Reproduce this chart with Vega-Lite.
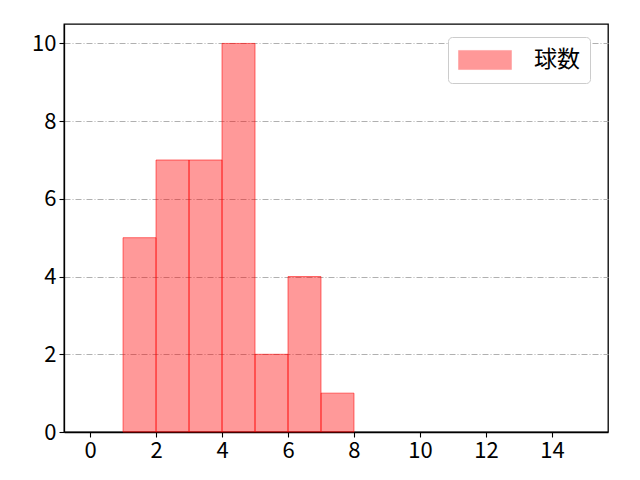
{
  "$schema": "https://vega.github.io/schema/vega-lite/v6.json",
  "width": 544,
  "height": 408,
  "autosize": {"type": "none"},
  "padding": {"left": 64, "top": 24, "right": 32, "bottom": 48},
  "background": "white",
  "config": {
    "font": "Noto Sans CJK JP",
    "view": {"stroke": "black", "strokeWidth": 1.3},
    "axis": {
      "domainColor": "black",
      "domainWidth": 1.3,
      "tickColor": "black",
      "tickWidth": 1.1,
      "tickSize": 5,
      "labelFontSize": 22,
      "labelColor": "black",
      "labelPadding": 3,
      "title": null
    }
  },
  "data": {
    "values": [
      {"bin_start": 1, "bin_end": 2, "count": 5, "series": "球数"},
      {"bin_start": 2, "bin_end": 3, "count": 7, "series": "球数"},
      {"bin_start": 3, "bin_end": 4, "count": 7, "series": "球数"},
      {"bin_start": 4, "bin_end": 5, "count": 10, "series": "球数"},
      {"bin_start": 5, "bin_end": 6, "count": 2, "series": "球数"},
      {"bin_start": 6, "bin_end": 7, "count": 4, "series": "球数"},
      {"bin_start": 7, "bin_end": 8, "count": 1, "series": "球数"}
    ]
  },
  "mark": {
    "type": "rect",
    "fillOpacity": 0.4,
    "stroke": "#ff0000",
    "strokeOpacity": 0.55,
    "strokeWidth": 1
  },
  "encoding": {
    "x": {
      "field": "bin_start",
      "type": "quantitative",
      "scale": {"domain": [-0.79, 15.7], "nice": false, "zero": false},
      "axis": {"values": [0, 2, 4, 6, 8, 10, 12, 14], "grid": false}
    },
    "x2": {"field": "bin_end"},
    "y": {
      "field": "count",
      "type": "quantitative",
      "scale": {"domain": [0, 10.5], "nice": false},
      "axis": {
        "values": [0, 2, 4, 6, 8, 10],
        "grid": true,
        "gridColor": "#b0b0b0",
        "gridDash": [6, 2, 1, 2],
        "gridWidth": 1
      }
    },
    "y2": {"datum": 0},
    "color": {
      "field": "series",
      "type": "nominal",
      "scale": {"range": ["#ff0000"]},
      "legend": {
        "title": null,
        "orient": "none",
        "legendX": 384,
        "legendY": 13,
        "fillColor": "white",
        "strokeColor": "#cccccc",
        "cornerRadius": 4,
        "padding": 10,
        "clipHeight": 26,
        "symbolType": "M-1,-0.36H1V0.36H-1Z",
        "symbolSize": 2809,
        "symbolOpacity": 0.4,
        "symbolStrokeColor": "#ff0000",
        "symbolStrokeWidth": 0.5,
        "labelFontSize": 23,
        "labelColor": "black",
        "labelOffset": 22
      }
    }
  }
}
